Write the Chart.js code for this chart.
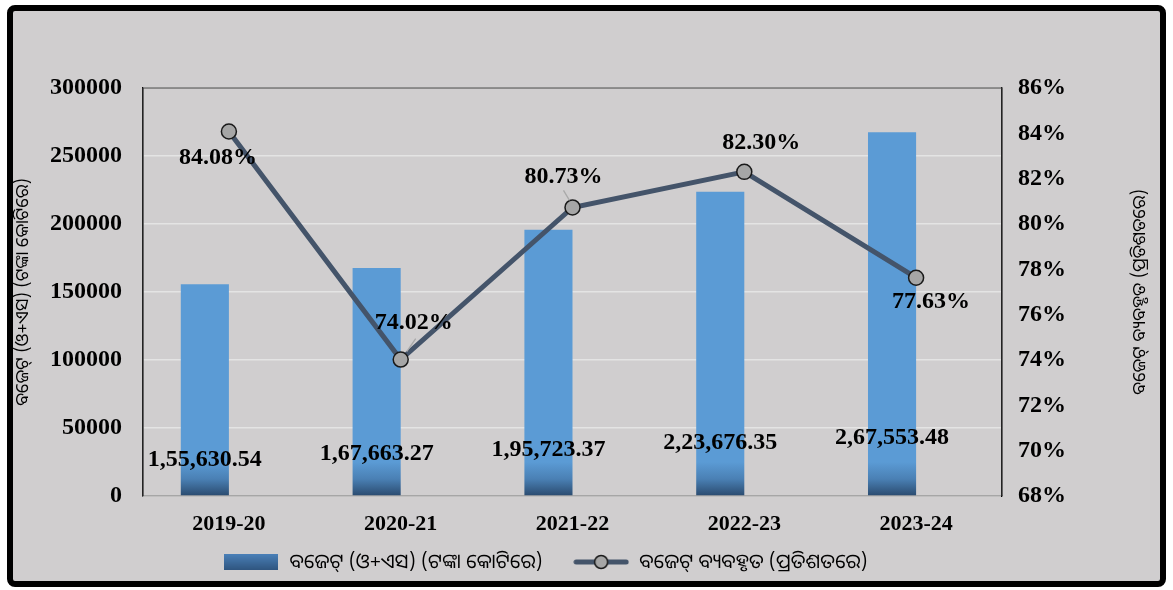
<!DOCTYPE html>
<html>
<head>
<meta charset="utf-8">
<script src="https://cdn.jsdelivr.net/npm/chart.js@4.4.1/dist/chart.umd.min.js"></script>
<style>
  html, body { margin: 0; padding: 0; background: #ffffff; }
  #wrap { position: relative; width: 1173px; height: 590px; }
  #frame {
    position: absolute; left: 7px; top: 5px; width: 1147px; height: 570px;
    border: 6px solid #000; border-radius: 8px; background: #d0cecf;
  }
  canvas { position: absolute; left: 0; top: 0; }
</style>
</head>
<body>
<div id="wrap">
  <div id="frame"></div>
  <canvas id="combo" width="1173" height="590"></canvas>
</div>
<script>
const years = ["2019-20", "2020-21", "2021-22", "2022-23", "2023-24"];
const budget = [155630.54, 167663.27, 195723.37, 223676.35, 267553.48];
const budgetLabels = ["1,55,630.54", "1,67,663.27", "1,95,723.37", "2,23,676.35", "2,67,553.48"];
const utilised = [84.08, 74.02, 80.73, 82.30, 77.63];

const barName = "ବଜେଟ୍ (ଓ+ଏସ) (ଟଙ୍କା କୋଟିରେ)";
const lineName = "ବଜେଟ୍ ବ୍ୟବହୃତ (ପ୍ରତିଶତରେ)";
const rightTitle = "ବଜେଟ୍ ବ୍ୟବହୃତ (ପ୍ରତିଶତରେ)";

const serif = "'Liberation Serif', 'Times New Roman', serif";
const sans = "'Noto Sans Oriya', 'Noto Sans', 'DejaVu Sans', sans-serif";
const lineColor = "#44546a";

// legend swatches
function barSwatch() {
  const c = document.createElement("canvas");
  c.width = 54; c.height = 16;
  const g = c.getContext("2d");
  const gr = g.createLinearGradient(0, 0, 0, 16);
  gr.addColorStop(0, "#4a80b8");
  gr.addColorStop(1, "#2f557f");
  g.fillStyle = gr;
  g.fillRect(0, 0, 54, 16);
  return c;
}
function lineSwatch() {
  const c = document.createElement("canvas");
  c.width = 56; c.height = 18;
  const g = c.getContext("2d");
  g.strokeStyle = lineColor;
  g.lineWidth = 5;
  g.lineCap = "round";
  g.beginPath(); g.moveTo(3, 9); g.lineTo(53, 9); g.stroke();
  g.fillStyle = "#a6a6a6";
  g.strokeStyle = "#1a1a1a";
  g.lineWidth = 1.5;
  g.beginPath(); g.arc(28, 9, 6.5, 0, Math.PI * 2); g.fill(); g.stroke();
  return c;
}

function barGradient(context) {
  const chart = context.chart;
  const area = chart.chartArea;
  if (!area) return "#5b9bd5";
  const g = chart.ctx.createLinearGradient(0, area.bottom - 34, 0, area.bottom);
  g.addColorStop(0, "#5b9bd5");
  g.addColorStop(0.5, "#4a80b4");
  g.addColorStop(1, "#2a4a6e");
  return g;
}

const labelPlugin = {
  id: "labels",
  afterLayout(chart) {
    // legend sits a bit left of the canvas centre
    chart.legend.left -= 41;
    chart.legend.right -= 41;
  },
  afterDraw(chart) {
    const ctx = chart.ctx;
    const area = chart.chartArea;
    ctx.save();
    // plot border (left, top, right)
    ctx.strokeStyle = "#3a3a3a";
    ctx.lineWidth = 1.2;
    ctx.beginPath();
    ctx.moveTo(area.left, area.bottom);
    ctx.lineTo(area.left, area.top);
    ctx.lineTo(area.right, area.top);
    ctx.lineTo(area.right, area.bottom);
    ctx.stroke();

    ctx.fillStyle = "#000";
    ctx.font = "bold 24px " + serif;
    ctx.textAlign = "center";
    ctx.textBaseline = "middle";
    const bars = chart.getDatasetMeta(0).data;
    const lift = [36, 42, 46, 53, 58];
    bars.forEach((b, i) => {
      ctx.fillText(budgetLabels[i], b.x, area.bottom - lift[i]);
    });

    const pts = chart.getDatasetMeta(2).data;
    // leader lines for two labels
    ctx.strokeStyle = "#a9a9a9";
    ctx.lineWidth = 1.3;
    ctx.beginPath();
    ctx.moveTo(pts[1].x + 15, pts[1].y - 21); ctx.lineTo(pts[1].x + 6, pts[1].y - 8);
    ctx.moveTo(pts[2].x - 9, pts[2].y - 17); ctx.lineTo(pts[2].x - 3, pts[2].y - 7);
    ctx.stroke();

    const offs = [[-11, 26], [13, -37], [-9, -31], [17, -29], [15, 24]];
    pts.forEach((p, i) => {
      ctx.fillText(utilised[i].toFixed(2) + "%", p.x + offs[i][0], p.y + offs[i][1]);
    });

    // right axis title, reading bottom to top
    ctx.font = "18px " + sans;
    ctx.translate(1140, (area.top + area.bottom) / 2);
    ctx.rotate(-Math.PI / 2);
    ctx.fillText(rightTitle, 0, 0);
    ctx.restore();
  }
};

new Chart(document.getElementById("combo").getContext("2d"), {
  data: {
    labels: years,
    datasets: [
      {
        type: "bar",
        label: barName,
        data: budget,
        yAxisID: "y",
        backgroundColor: barGradient,
        borderWidth: 0,
        barPercentage: 1,
        categoryPercentage: 0.56,
        order: 2,
      },
      {
        type: "bar",
        label: "",
        data: years.map(() => null),
        yAxisID: "y",
        barPercentage: 1,
        categoryPercentage: 0.56,
        order: 3,
      },
      {
        type: "line",
        label: lineName,
        data: utilised,
        yAxisID: "y2",
        borderColor: lineColor,
        borderWidth: 5,
        pointRadius: 7.5,
        pointBackgroundColor: "#a6a6a6",
        pointBorderColor: "#1a1a1a",
        pointBorderWidth: 1.5,
        tension: 0,
        order: 1,
      },
    ],
  },
  options: {
    responsive: false,
    animation: false,
    layout: { padding: { top: 88, left: 0, right: 0, bottom: 8 } },
    plugins: {
      tooltip: { enabled: false },
      legend: {
        position: "bottom",
        labels: {
          usePointStyle: true,
          pointStyleWidth: 56,
          padding: 10,
          color: "#000",
          font: { family: sans, size: 20 },
          generateLabels: (chart) => [
            { text: barName + "\u00a0\u00a0\u00a0\u00a0", pointStyle: barSwatch(), datasetIndex: 0, fontColor: "#000" },
            { text: lineName, pointStyle: lineSwatch(), datasetIndex: 2, fontColor: "#000" },
          ],
        },
      },
    },
    scales: {
      x: {
        grid: { display: false },
        border: { color: "#a6a6a6", width: 1.5 },
        ticks: { color: "#000", font: { family: serif, size: 22, weight: "bold" }, padding: 7 },
        afterFit: (s) => { s.height = 46; },
      },
      y: {
        position: "left",
        min: 0,
        max: 300000,
        ticks: {
          stepSize: 50000,
          color: "#000",
          padding: 21,
          font: { family: serif, size: 24, weight: "bold" },
          callback: (v) => String(v),
        },
        grid: { color: "#e4e4e4", lineWidth: 1.5, drawTicks: false },
        border: { color: "#000", width: 1.2 },
        title: {
          display: true,
          text: barName,
          color: "#000",
          font: { family: sans, size: 18 },
          padding: { top: 12, bottom: 0 },
        },
        afterFit: (s) => { s.width = 143; },
      },
      y2: {
        position: "right",
        min: 68,
        max: 86,
        ticks: {
          stepSize: 2,
          color: "#000",
          padding: 16,
          font: { family: serif, size: 24, weight: "bold" },
          callback: (v) => v + "%",
        },
        grid: { display: false, drawTicks: false },
        border: { color: "#000", width: 1.2 },
        afterFit: (s) => { s.width = 171; },
      },
    },
  },
  plugins: [labelPlugin],
});
</script>
</body>
</html>
